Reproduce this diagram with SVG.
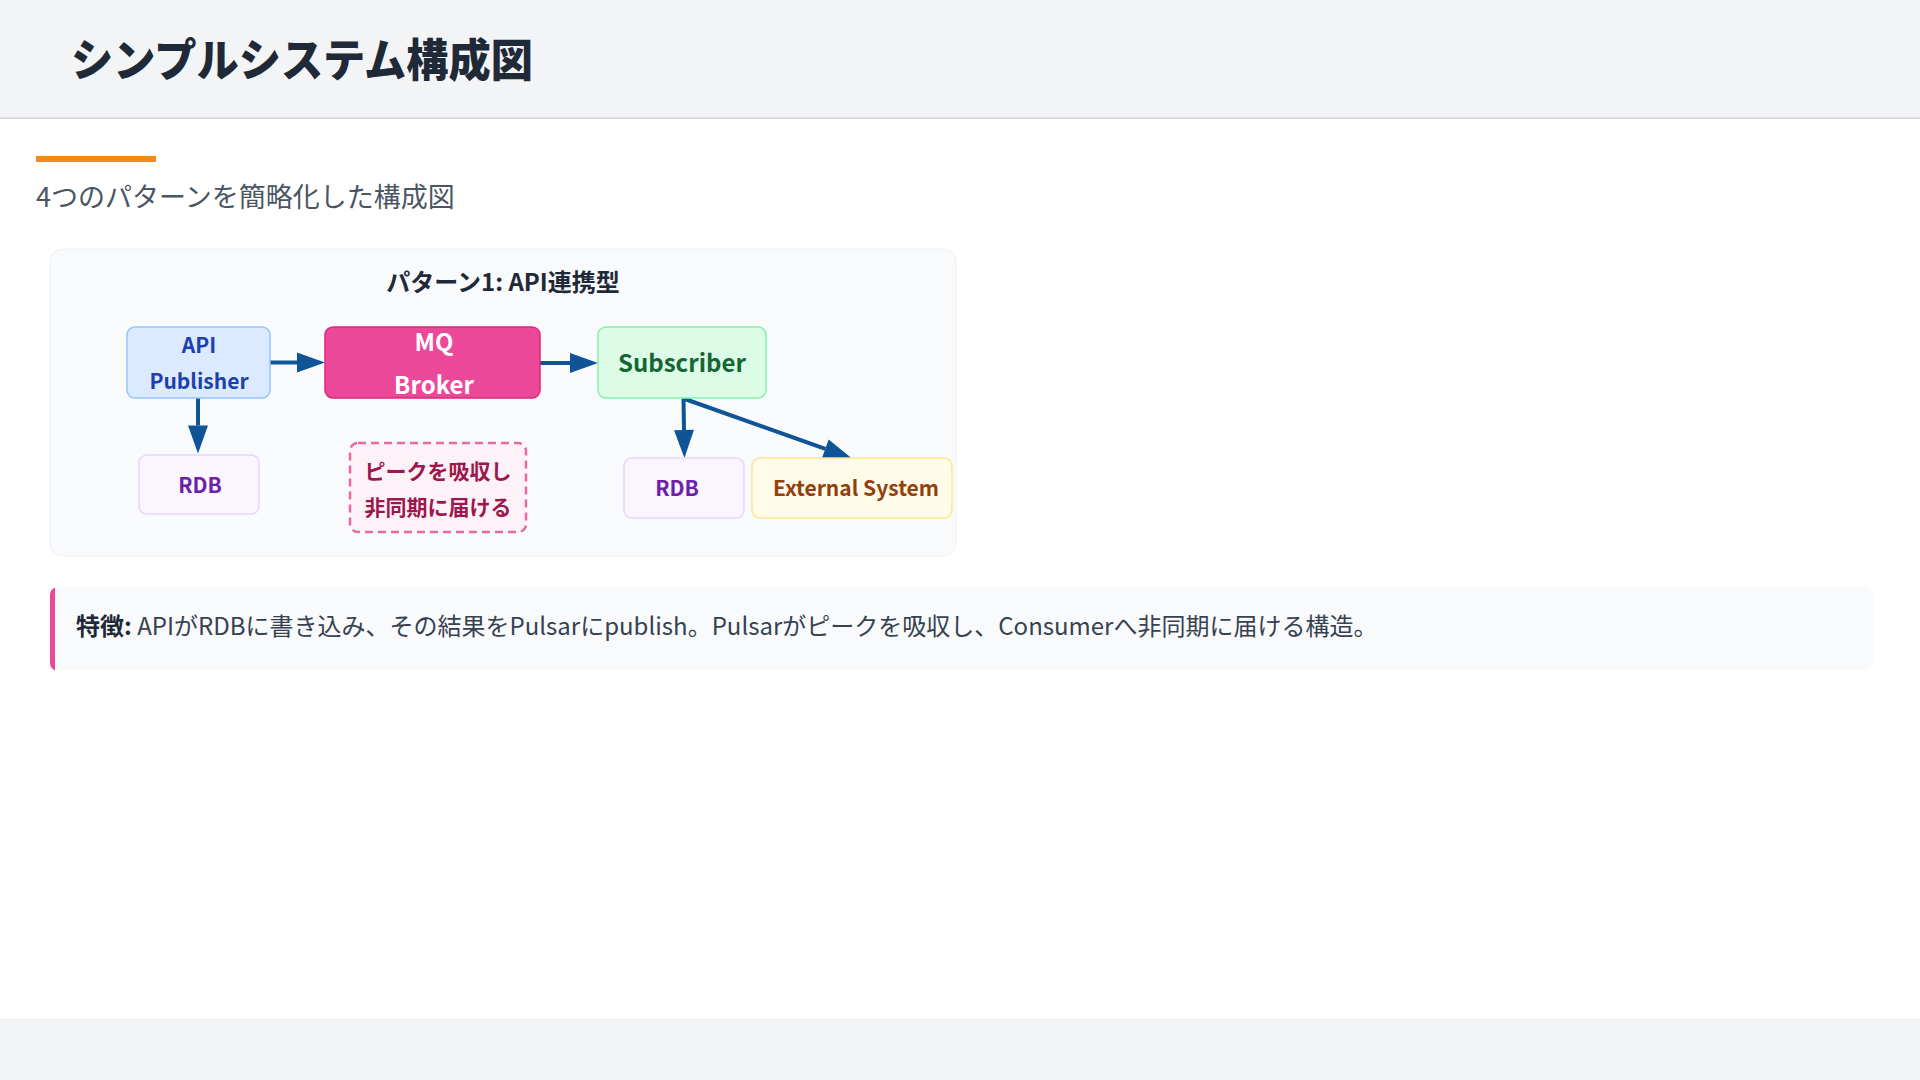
<svg xmlns="http://www.w3.org/2000/svg" width="1920" height="1080" viewBox="0 0 1920 1080">
  <style>
    text { font-family: "Noto Sans CJK JP", "Noto Sans", sans-serif; }
    .node-label { font-weight: 700; text-anchor: middle; }
    .conn { stroke: #0e5497; stroke-width: 4; fill: none; marker-end: url(#arrow); }
  </style>
  <defs>
    <marker id="arrow" markerUnits="strokeWidth" markerWidth="7" markerHeight="5" refX="0" refY="2.5" orient="auto" overflow="visible">
      <path d="M0,0 L7,2.5 L0,5 z" fill="#0e5497"/>
    </marker>
    <clipPath id="featureClip">
      <rect x="50" y="587" width="1823" height="84" rx="8" ry="8"/>
    </clipPath>
  </defs>

  <!-- page background -->
  <rect x="0" y="0" width="1920" height="1080" fill="#ffffff"/>

  <!-- header -->
  <g id="header">
    <rect x="0" y="0" width="1920" height="118" fill="#f3f4f6"/>
    <rect x="0" y="117.5" width="1920" height="1.5" fill="#d4d6da"/>
    <text x="71" y="77" font-size="45" font-weight="900" fill="#1f2937" textLength="462" lengthAdjust="spacingAndGlyphs">シンプルシステム構成図</text>
  </g>

  <!-- subtitle -->
  <g id="subtitle">
    <rect x="36" y="156" width="120" height="6" fill="#f28b12"/>
    <text x="36" y="207" font-size="27" fill="#4b5563">4つのパターンを簡略化した構成図</text>
  </g>

  <!-- diagram panel -->
  <g id="panel">
    <rect x="50" y="249" width="906" height="307" rx="12" ry="12" fill="#f8fafc" stroke="#eef1f5" stroke-width="1"/>
    <text x="503" y="290.5" font-size="24" font-weight="700" fill="#1f2937" text-anchor="middle">パターン1: API連携型</text>
  </g>

  <!-- connectors -->
  <g id="connectors">
    <line class="conn" x1="270" y1="362.5" x2="297" y2="362.5"/>
    <line class="conn" x1="540" y1="363" x2="570" y2="363"/>
    <line class="conn" x1="198" y1="398" x2="198" y2="425.5"/>
    <line class="conn" x1="683.5" y1="398.5" x2="684" y2="430"/>
    <line class="conn" x1="683.5" y1="398.5" x2="825.3" y2="448.9"/>
  </g>

  <!-- nodes -->
  <g id="node-api-publisher">
    <rect x="127" y="327" width="143" height="71" rx="8" ry="8" fill="#dbeafe" stroke="#93c5fd" stroke-width="1.5"/>
    <text class="node-label" x="199" y="353" font-size="21" fill="#1e40af">API</text>
    <text class="node-label" x="199" y="389" font-size="21" fill="#1e40af">Publisher</text>
  </g>

  <g id="node-mq-broker">
    <rect x="325" y="327" width="215" height="71" rx="8" ry="8" fill="#ec4899" stroke="#db2777" stroke-width="1.5"/>
    <text class="node-label" x="434" y="351" font-size="24" fill="#ffffff">MQ</text>
    <text class="node-label" x="434" y="394" font-size="24" fill="#ffffff">Broker</text>
  </g>

  <g id="node-subscriber">
    <rect x="598" y="327" width="168" height="71" rx="8" ry="8" fill="#dcfce7" stroke="#86efac" stroke-width="1.5"/>
    <text class="node-label" x="682" y="372" font-size="24" fill="#166534">Subscriber</text>
  </g>

  <g id="node-rdb-left">
    <rect x="139" y="455" width="120" height="59" rx="8" ry="8" fill="#faf5ff" stroke="#e9d5ff" stroke-width="1.5"/>
    <text class="node-label" x="200" y="493" font-size="21" fill="#6b21a8">RDB</text>
  </g>

  <g id="node-note">
    <rect x="350" y="443" width="176" height="89" rx="8" ry="8" fill="#fdf2f8" stroke="#e56aa6" stroke-width="2.5" stroke-dasharray="8 5"/>
    <text class="node-label" x="438" y="478.5" font-size="21" fill="#9d174d">ピークを吸収し</text>
    <text class="node-label" x="438" y="514.5" font-size="21" fill="#9d174d">非同期に届ける</text>
  </g>

  <g id="node-rdb-right">
    <rect x="624" y="458" width="120" height="60" rx="8" ry="8" fill="#faf5ff" stroke="#e9d5ff" stroke-width="1.5"/>
    <text class="node-label" x="677" y="496" font-size="21" fill="#6b21a8">RDB</text>
  </g>

  <g id="node-external-system">
    <rect x="752" y="458" width="200" height="60" rx="8" ry="8" fill="#fefce8" stroke="#fde68a" stroke-width="1.5"/>
    <text class="node-label" x="856" y="496" font-size="21" fill="#92400e">External System</text>
  </g>

  <!-- feature box -->
  <g id="feature">
    <rect x="50" y="587" width="1823" height="84" rx="8" ry="8" fill="#f8fafc"/>
    <rect x="50" y="587" width="5" height="84" fill="#ec4899" clip-path="url(#featureClip)"/>
    <text x="76" y="634.5" font-size="24" fill="#374151"><tspan font-weight="700" fill="#1f2937">特徴:</tspan> APIがRDBに書き込み、その結果をPulsarにpublish。Pulsarがピークを吸収し、Consumerへ非同期に届ける構造。</text>
  </g>

  <!-- footer -->
  <g id="footer">
    <rect x="0" y="1019" width="1920" height="61" fill="#f3f4f6"/>
    <rect x="0" y="1019" width="1920" height="1" fill="#eceef1"/>
  </g>
</svg>
